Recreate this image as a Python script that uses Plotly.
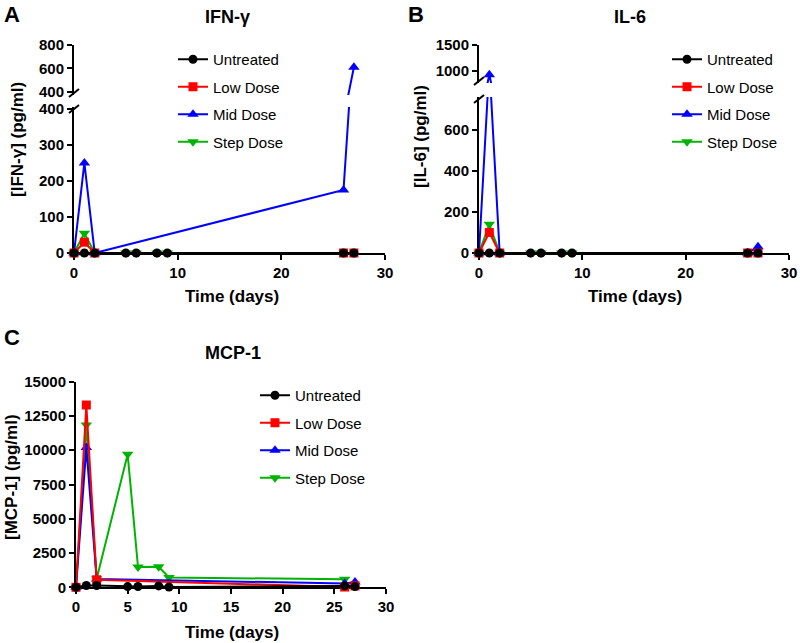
import plotly.graph_objects as go

# ---------------- data ----------------
days_all = [0, 1, 2, 5, 6, 8, 9, 26, 27]
days_dose = [0, 1, 2, 26, 27]
days_step = [0, 1, 2, 5, 6, 8, 9]
days_step_c = [0, 1, 2, 5, 6, 8, 9, 26]

series_names = ["Untreated", "Low Dose", "Mid Dose", "Step Dose"]

# IFN-gamma (pg/ml)
ifng_untreated = [0, 0, 0, 0, 0, 0, 0, 0, 0]
ifng_low = [0, 30, 0, 0, 0]
ifng_mid = [0, 250, 0, 175, 610]
ifng_step = [0, 55, 0, 0, 0, 0, 0]

# IL-6 (pg/ml)
il6_untreated = [0, 0, 0, 0, 0, 0, 0, 0, 0]
il6_low = [0, 100, 0, 0, 0]
il6_mid = [0, 920, 0, 0, 30]
il6_step = [0, 140, 0, 0, 0, 0, 0]

# MCP-1 (pg/ml)
mcp1_untreated = [0, 130, 130, 50, 60, 100, 20, 100, 50]
mcp1_low = [0, 13300, 550, 20, 100]
mcp1_mid = [0, 10200, 600, 280, 380]
mcp1_step = [0, 11850, 620, 9700, 1480, 1500, 720, 580]

# ---------------- style ----------------
W, H = 800, 643
FAM = "Liberation Sans, Arial, sans-serif"
colors = {"Untreated": "#000000", "Low Dose": "#FF0000",
          "Mid Dose": "#0000FF", "Step Dose": "#00B300"}
symbols = {"Untreated": "circle", "Low Dose": "square",
           "Mid Dose": "triangle-up", "Step Dose": "triangle-down"}
msize = {"Untreated": 9, "Low Dose": 9, "Mid Dose": 10, "Step Dose": 10}

TICKFONT = dict(family=FAM, size=15, color="black", weight="bold")
LEGFONT = dict(family=FAM, size=15, color="black")


def px_x(p):
    return p / W


def px_y(p):
    return 1 - p / H


fig = go.Figure()

panels = [
    dict(xa="x", data=[("Step Dose", days_step, ifng_step), ("Mid Dose", days_dose, ifng_mid),
                       ("Low Dose", days_dose, ifng_low), ("Untreated", days_all, ifng_untreated)],
         yaxes=[("y", [0, 405]), ("y2", [374, 800])], legend="legend"),
    dict(xa="x2", data=[("Step Dose", days_step, il6_step), ("Mid Dose", days_dose, il6_mid),
                        ("Low Dose", days_dose, il6_low), ("Untreated", days_all, il6_untreated)],
         yaxes=[("y3", [0, 762]), ("y4", [760, 1500])], legend="legend2"),
    dict(xa="x3", data=[("Step Dose", days_step_c, mcp1_step), ("Mid Dose", days_dose, mcp1_mid),
                        ("Low Dose", days_dose, mcp1_low), ("Untreated", days_all, mcp1_untreated)],
         yaxes=[("y5", [0, 15000])], legend="legend3"),
]

for p in panels:
    for name, xs, ys in p["data"]:
        for ya, (lo, hi) in p["yaxes"]:
            fig.add_trace(go.Scatter(x=xs, y=ys, mode="lines", xaxis=p["xa"], yaxis=ya,
                                     line=dict(color=colors[name], width=2),
                                     showlegend=False, hoverinfo="skip"))
            mx = [x for x, y in zip(xs, ys) if lo <= y <= hi]
            my = [y for y in ys if lo <= y <= hi]
            fig.add_trace(go.Scatter(x=mx, y=my, mode="markers", xaxis=p["xa"], yaxis=ya,
                                     marker=dict(color=colors[name], symbol=symbols[name],
                                                 size=msize[name], line=dict(width=0)),
                                     cliponaxis=False, showlegend=False))
    for name in series_names:
        fig.add_trace(go.Scatter(x=[None], y=[None], mode="lines+markers", name=name,
                                 xaxis=p["xa"], yaxis=p["yaxes"][0][0],
                                 legend=p["legend"], legendgroup=p["legend"] + name,
                                 line=dict(color=colors[name], width=2),
                                 marker=dict(color=colors[name], symbol=symbols[name],
                                             size=msize[name], line=dict(width=0))))

axis_common = dict(showline=True, linecolor="black", linewidth=2, ticks="outside",
                   ticklen=5, tickwidth=2, tickcolor="black", showgrid=False,
                   zeroline=False, tickfont=TICKFONT, layer="below traces", fixedrange=True)

layout = dict(
    width=W, height=H, margin=dict(l=0, r=0, t=0, b=0, autoexpand=False),
    plot_bgcolor="white", paper_bgcolor="white", showlegend=True,
    # panel A
    xaxis=dict(axis_common, domain=[px_x(74), px_x(385)], range=[0, 30], dtick=10, anchor="y"),
    yaxis=dict(axis_common, domain=[px_y(253), px_y(107)], range=[0, 405],
               tickvals=[0, 100, 200, 300, 400], anchor="x"),
    yaxis2=dict(axis_common, domain=[px_y(95), px_y(45)], range=[374, 800],
                tickvals=[400, 600, 800], anchor="x"),
    # panel B
    xaxis2=dict(axis_common, domain=[px_x(479), px_x(789)], range=[0, 30], dtick=10, anchor="y3"),
    yaxis3=dict(axis_common, domain=[px_y(253), px_y(97)], range=[0, 762],
                tickvals=[0, 200, 400, 600], anchor="x2"),
    yaxis4=dict(axis_common, domain=[px_y(83), px_y(45)], range=[760, 1500],
                tickvals=[1000, 1500], anchor="x2"),
    # panel C
    xaxis3=dict(axis_common, domain=[px_x(76), px_x(386)], range=[0, 30], dtick=5, anchor="y5"),
    yaxis5=dict(axis_common, domain=[px_y(587.3), px_y(381.7)], range=[0, 15000],
                dtick=2500, tickformat="d", anchor="x3"),
)

leg_common = dict(font=LEGFONT, bgcolor="rgba(0,0,0,0)", borderwidth=0,
                  xanchor="left", yanchor="top", tracegroupgap=5, traceorder="grouped")
layout["legend"] = dict(leg_common, x=px_x(173), y=px_y(43))
layout["legend2"] = dict(leg_common, x=px_x(667), y=px_y(43))
layout["legend3"] = dict(leg_common, x=px_x(255), y=px_y(379))

annotations = []


def ann(text, x, y, size, angle=0):
    annotations.append(dict(text=text, x=px_x(x), y=px_y(y), xref="paper", yref="paper",
                            showarrow=False, textangle=angle, xanchor="center", yanchor="middle",
                            font=dict(family=FAM, size=size, color="black", weight="bold")))


ann("A", 12, 15, 22)
ann("B", 416, 15, 22)
ann("C", 12, 337, 22)
ann("IFN-γ", 227, 17, 18)
ann("IL-6", 630, 17, 18)
ann("MCP-1", 233, 353, 18)
ann("[IFN-γ] (pg/ml)", 18, 140, 17, -90)
ann("[IL-6] (pg/ml)", 420, 137, 17, -90)
ann("[MCP-1] (pg/ml)", 12, 477, 17, -90)
ann("Time (days)", 232, 297, 17)
ann("Time (days)", 635, 297, 17)
ann("Time (days)", 232, 632, 17)
layout["annotations"] = annotations

# axis-break marks
shapes = []
for ax_x, y_upper_bottom, y_lower_top in [(74, 95, 107), (479, 83, 97)]:
    for yc in (y_upper_bottom - 2, y_lower_top + 2):
        shapes.append(dict(type="line", xref="paper", yref="paper",
                           x0=px_x(ax_x - 5), y0=px_y(yc + 4), x1=px_x(ax_x + 5), y1=px_y(yc - 4),
                           line=dict(color="black", width=2)))
layout["shapes"] = shapes

fig.update_layout(**layout)
fig.write_html("out.html", config={"displayModeBar": False},
               post_script="document.body.style.margin='0';document.body.style.overflow='hidden';")
